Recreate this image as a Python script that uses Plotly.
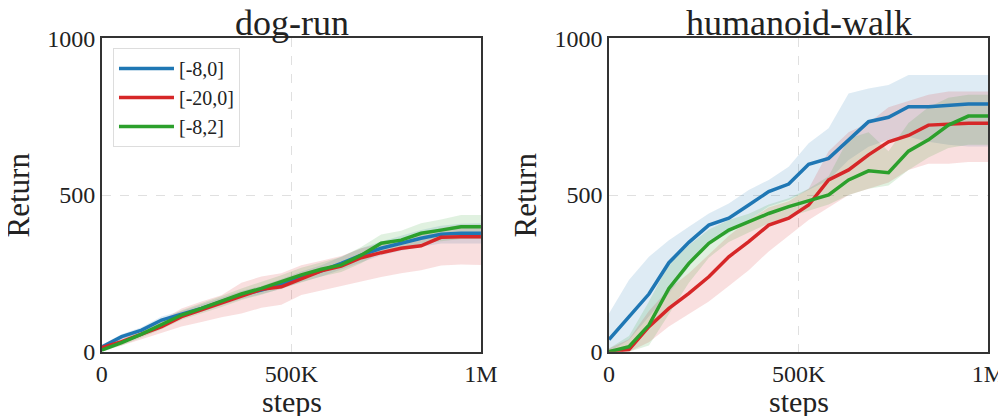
import numpy as np
import plotly.graph_objects as go

steps = np.linspace(0, 1_000_000, 20)
labels = ["[-8,0]", "[-20,0]", "[-8,2]"]
colors = ["#1f77b4", "#d62728", "#2ca02c"]
fills = ["rgba(31,119,180,0.15)", "rgba(214,39,40,0.15)", "rgba(44,160,44,0.15)"]

# dog-run
dog_blue = [15, 48, 69, 101, 120, 138, 160, 181, 197, 216, 239, 258, 282, 308, 330, 346, 362, 375, 378, 378]
dog_red = [13, 32, 56, 80, 112, 133, 154, 176, 199, 207, 234, 258, 273, 300, 316, 330, 338, 365, 367, 367]
dog_green = [5, 29, 56, 85, 117, 138, 160, 184, 202, 223, 245, 263, 277, 308, 346, 356, 378, 388, 399, 399]
dog_blue_lo = [8, 40, 60, 90, 110, 127, 148, 168, 184, 200, 222, 240, 262, 286, 308, 322, 335, 345, 345, 345]
dog_blue_hi = [22, 56, 78, 112, 130, 150, 172, 194, 210, 232, 256, 276, 302, 330, 352, 370, 388, 402, 408, 410]
dog_red_lo = [5, 20, 40, 60, 80, 95, 110, 122, 140, 150, 181, 195, 210, 225, 238, 250, 260, 275, 278, 277]
dog_red_hi = [20, 45, 70, 100, 138, 160, 180, 220, 240, 250, 276, 290, 305, 330, 345, 360, 375, 395, 405, 405]
dog_green_lo = [0, 20, 45, 72, 102, 122, 143, 165, 182, 202, 222, 240, 254, 282, 318, 328, 345, 352, 360, 360]
dog_green_hi = [12, 38, 68, 98, 132, 154, 178, 202, 222, 244, 268, 286, 302, 334, 374, 386, 410, 422, 436, 436]

# humanoid-walk
hum_blue = [39, 112, 184, 284, 349, 404, 426, 468, 511, 535, 598, 617, 676, 734, 748, 782, 782, 785, 790, 790]
hum_red = [0, 7, 80, 138, 186, 239, 303, 351, 404, 426, 468, 548, 580, 628, 670, 690, 723, 727, 729, 729]
hum_green = [0, 16, 85, 202, 282, 346, 388, 415, 441, 463, 482, 500, 548, 577, 571, 640, 676, 723, 752, 752]
hum_blue_lo = [0, 37, 112, 186, 271, 346, 378, 420, 463, 484, 516, 548, 612, 654, 676, 686, 670, 660, 655, 655]
hum_blue_hi = [122, 229, 303, 356, 399, 441, 473, 516, 548, 590, 665, 713, 824, 840, 851, 883, 883, 883, 883, 883]
hum_red_lo = [0, 0, 30, 80, 120, 160, 210, 260, 320, 370, 420, 460, 500, 520, 540, 580, 600, 600, 605, 605]
hum_red_hi = [10, 40, 130, 200, 250, 310, 370, 420, 460, 480, 520, 640, 700, 730, 780, 800, 820, 830, 830, 830]
hum_green_lo = [0, 0, 20, 120, 220, 300, 350, 380, 410, 430, 450, 470, 500, 520, 530, 580, 620, 650, 660, 660]
hum_green_hi = [10, 50, 160, 280, 340, 390, 420, 440, 470, 490, 520, 560, 680, 700, 640, 730, 780, 810, 820, 820]

panels = [
    ("x", "y", [dog_blue, dog_red, dog_green],
     [(dog_blue_lo, dog_blue_hi), (dog_red_lo, dog_red_hi), (dog_green_lo, dog_green_hi)], True),
    ("x2", "y2", [hum_blue, hum_red, hum_green],
     [(hum_blue_lo, hum_blue_hi), (hum_red_lo, hum_red_hi), (hum_green_lo, hum_green_hi)], False),
]

fig = go.Figure()
for xa, ya, means, bands, show in panels:
    for i, (lo, hi) in enumerate(bands):
        fig.add_trace(go.Scatter(x=steps, y=lo, xaxis=xa, yaxis=ya, mode="lines",
                                 line=dict(width=0, color=colors[i]), showlegend=False, hoverinfo="skip"))
        fig.add_trace(go.Scatter(x=steps, y=hi, xaxis=xa, yaxis=ya, mode="lines",
                                 line=dict(width=0, color=colors[i]), fill="tonexty",
                                 fillcolor=fills[i], showlegend=False, hoverinfo="skip"))
    for i, m in enumerate(means):
        fig.add_trace(go.Scatter(x=steps, y=m, xaxis=xa, yaxis=ya, mode="lines",
                                 line=dict(width=3.5, color=colors[i]), name=labels[i],
                                 showlegend=show))

font_family = "Liberation Serif, Times New Roman, serif"
axis_common = dict(
    showline=True, mirror=True, linecolor="#333333", linewidth=1.5,
    showgrid=True, gridcolor="#e0e0e0", griddash="dash", gridwidth=1,
    zeroline=False, ticks="", automargin=False,
    tickfont=dict(family=font_family, size=24, color="#222"),
)
ydom = [0.1576, 0.9257]
fig.update_layout(
    width=998, height=408,
    margin=dict(l=0, r=0, t=0, b=0, autoexpand=False),
    paper_bgcolor="white", plot_bgcolor="white",
    font=dict(family=font_family, color="#222"),
    xaxis=dict(domain=[0.0939, 0.4739], range=[0, 1_000_000], tickvals=[0, 500_000, 1_000_000],
               ticktext=["0", "500K", "1M"], anchor="y", **axis_common),
    yaxis=dict(domain=ydom, range=[0, 1000], tickvals=[0, 500, 1000], anchor="x", **axis_common),
    xaxis2=dict(domain=[0.6022, 0.9823], range=[0, 1_000_000], tickvals=[0, 500_000, 1_000_000],
                ticktext=["0", "500K", "1M"], anchor="y2", **axis_common),
    yaxis2=dict(domain=ydom, range=[0, 1000], tickvals=[0, 500, 1000], anchor="x2", **axis_common),
    legend=dict(x=0.1052, y=0.902, xanchor="left", yanchor="top", traceorder="normal",
                bgcolor="rgba(255,255,255,0.85)", bordercolor="#dddddd", borderwidth=1,
                font=dict(family=font_family, size=20, color="#222"),
                itemwidth=55),
    showlegend=True,
)

ann = [
    dict(text="dog-run", x=0.2843, y=0.964, size=36),
    dict(text="humanoid-walk", x=0.7926, y=0.964, size=36),
    dict(text="steps", x=0.2846, y=0.036, size=30),
    dict(text="steps", x=0.7926, y=0.036, size=30),
]
for a in ann:
    fig.add_annotation(text=a["text"], x=a["x"], y=a["y"], xref="paper", yref="paper",
                       showarrow=False, xanchor="center", yanchor="middle",
                       font=dict(family=font_family, size=a["size"], color="#222"))
for xpos in [0.0115, 0.5195]:
    fig.add_annotation(text="Return", x=xpos, y=0.5417, xref="paper", yref="paper", textangle=-90,
                       showarrow=False, xanchor="center", yanchor="middle",
                       font=dict(family=font_family, size=31, color="#222"))

fig.write_html("out.html")
